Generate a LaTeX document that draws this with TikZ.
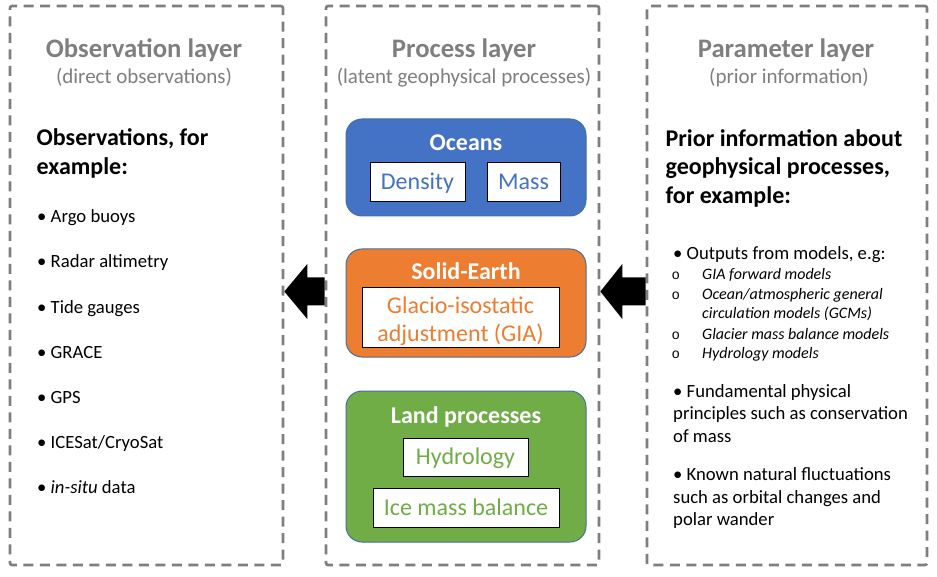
\documentclass[tikz,border=0pt]{standalone}
\usepackage{fontspec}
\setmainfont{Carlito}
\newfontfamily\circfont{Liberation Mono}
\usetikzlibrary{calc}
\definecolor{layergray}{HTML}{7F7F7F}
\definecolor{oceanblue}{HTML}{4472C4}
\definecolor{earthorange}{HTML}{ED7D31}
\definecolor{landgreen}{HTML}{70AD47}
\definecolor{edgeblue}{HTML}{41719C}
\tikzset{
  layer/.style={draw=layergray, line width=2.6pt, dash pattern=on 10pt off 6.5pt, rounded corners=2pt, inner sep=0pt},
  titletext/.style={font=\fontsize{26.7}{32}\selectfont\bfseries, text=layergray, anchor=base, inner sep=0pt},
  subtitletext/.style={font=\fontsize{21}{25}\selectfont, text=layergray, anchor=base, inner sep=0pt},
  headtext/.style={font=\fontsize{24}{29}\selectfont\bfseries, anchor=base west, inner sep=0pt},
  itemtext/.style={font=\fontsize{18.67}{22.8}\selectfont, anchor=base west, inner sep=0pt},
  subtext/.style={font=\fontsize{16}{19.5}\selectfont\itshape, anchor=base west, inner sep=0pt},
  circtext/.style={font=\fontsize{14}{16}\circfont, anchor=base west, inner sep=0pt},
  procbox/.style={rounded corners=16pt, line width=1pt, draw=edgeblue, inner sep=0pt},
  inbox/.style={draw=black, fill=white, line width=0.9pt, inner sep=0pt},
  boxtitle/.style={font=\fontsize{24}{29}\selectfont\bfseries, text=white, anchor=base, inner sep=0pt},
  boxtext/.style={font=\fontsize{24}{29}\selectfont, anchor=base, inner sep=0pt},
  blockarrow/.style={fill=black}
}
\begin{document}
\begin{tikzpicture}[x=1pt,y=-1pt]
\useasboundingbox (0,0) rectangle (937,577);
\fill[white] (0,0) rectangle (937,577);

% layer frames
\node[layer, minimum width=273pt, minimum height=559pt] (obs) at (146.5,285.5) {};
\node[layer, minimum width=273pt, minimum height=559pt] (proc) at (462.5,285.5) {};
\node[layer, minimum width=280pt, minimum height=559pt] (par) at (787,285.5) {};

% titles
\node[titletext] (obsT) at (144,57.5) {Observation layer};
\node[subtitletext] (obsS) at (144,84) {(direct observations)};
\node[titletext] (procT) at (464,57.5) {Process layer};
\node[subtitletext] (procS) at (464,84) {(latent geophysical processes)};
\node[titletext] (parT) at (786,57.5) {Parameter layer};
\node[subtitletext] (parS) at (789,84) {(prior information)};

% observation layer content
\node[headtext] (oh1) at (36.5,146) {Observations, for};
\node[headtext] (oh2) at (36.5,175) {example:};
\node[itemtext] (o1) at (37,223) {• Argo buoys};
\node[itemtext] (o2) at (37,268) {• Radar altimetry};
\node[itemtext] (o3) at (37,313) {• Tide gauges};
\node[itemtext] (o4) at (37,358) {• GRACE};
\node[itemtext] (o5) at (37,403) {• GPS};
\node[itemtext] (o6) at (37,448) {• ICESat/CryoSat};
\node[itemtext] (o7) at (37,493) {• \textit{in-situ} data};

% process layer content
\node[procbox, fill=oceanblue, minimum width=240pt, minimum height=97pt] (ocean) at (466,167.5) {};
\node[boxtitle] (oceanT) at (466,150.5) {Oceans};
\node[inbox, minimum width=95pt, minimum height=39pt] (dens) at (417.5,181.5) {};
\node[boxtext, text=oceanblue] (densT) at (417.5,189.5) {Density};
\node[inbox, minimum width=73pt, minimum height=39pt] (mass) at (523.5,181.5) {};
\node[boxtext, text=oceanblue] (massT) at (523.5,189.5) {Mass};

\node[procbox, fill=earthorange, minimum width=240pt, minimum height=108pt] (earth) at (466,303) {};
\node[boxtitle] (earthT) at (466,280) {Solid-Earth};
\node[inbox, minimum width=197pt, minimum height=60pt] (gia) at (460.5,317) {};
\node[boxtext, text=earthorange] (giaT1) at (460.5,314) {Glacio-isostatic};
\node[boxtext, text=earthorange] (giaT2) at (460.5,341.5) {adjustment (GIA)};

\node[procbox, fill=landgreen, minimum width=240pt, minimum height=151pt] (land) at (466,466.5) {};
\node[boxtitle] (landT) at (466,423.5) {Land processes};
\node[inbox, minimum width=125pt, minimum height=38pt] (hyd) at (465.5,457) {};
\node[boxtext, text=landgreen] (hydT) at (465.5,464.5) {Hydrology};
\node[inbox, minimum width=186pt, minimum height=39pt] (ice) at (466,507.5) {};
\node[boxtext, text=landgreen] (iceT) at (466,515) {Ice mass balance};

% parameter layer content
\node[headtext] (ph1) at (665.5,146.5) {Prior information about};
\node[headtext] (ph2) at (665.5,175) {geophysical processes,};
\node[headtext] (ph3) at (665.5,203.5) {for example:};
\node[itemtext] (p1) at (673,259.5) {• Outputs from models, e.g:};
\node[circtext] (c1) at (671.5,280) {o};
\node[subtext] (s1) at (702,280) {GIA forward models};
\node[circtext] (c2) at (671.5,299.5) {o};
\node[subtext] (s2) at (702,299.5) {Ocean/atmospheric general};
\node[subtext] (s2b) at (702,319) {circulation models (GCMs)};
\node[circtext] (c3) at (671.5,339) {o};
\node[subtext] (s3) at (702,339) {Glacier mass balance models};
\node[circtext] (c4) at (671.5,358.5) {o};
\node[subtext] (s4) at (702,358.5) {Hydrology models};
\node[itemtext] (p2a) at (673,397) {• Fundamental physical};
\node[itemtext] (p2b) at (673,419.5) {principles such as conservation};
\node[itemtext] (p2c) at (673,442) {of mass};
\node[itemtext] (p3a) at (673,480.5) {• Known natural fluctuations};
\node[itemtext] (p3b) at (673,503) {such as orbital changes and};
\node[itemtext] (p3c) at (673,525.5) {polar wander};

% block arrows (parameter -> process -> observation)
\coordinate (la) at (obs.east |- 0,291.5);
\coordinate (lb) at (proc.west |- 0,291.5);
\coordinate (ra) at (proc.east |- 0,291.5);
\coordinate (rb) at (par.west |- 0,291.5);
\fill[blockarrow] (la) -- ++(23,-27.5) -- ++(0,13.5) -- ($(lb)+(0,-14)$) -- ($(lb)+(0,14)$) -- ($(la)+(23,14)$) -- ++(0,13.5) -- cycle;
\fill[blockarrow] (ra) -- ++(22,-27.5) -- ++(0,13.5) -- ($(rb)+(0,-14)$) -- ($(rb)+(0,14)$) -- ($(ra)+(22,14)$) -- ++(0,13.5) -- cycle;
\end{tikzpicture}
\end{document}
